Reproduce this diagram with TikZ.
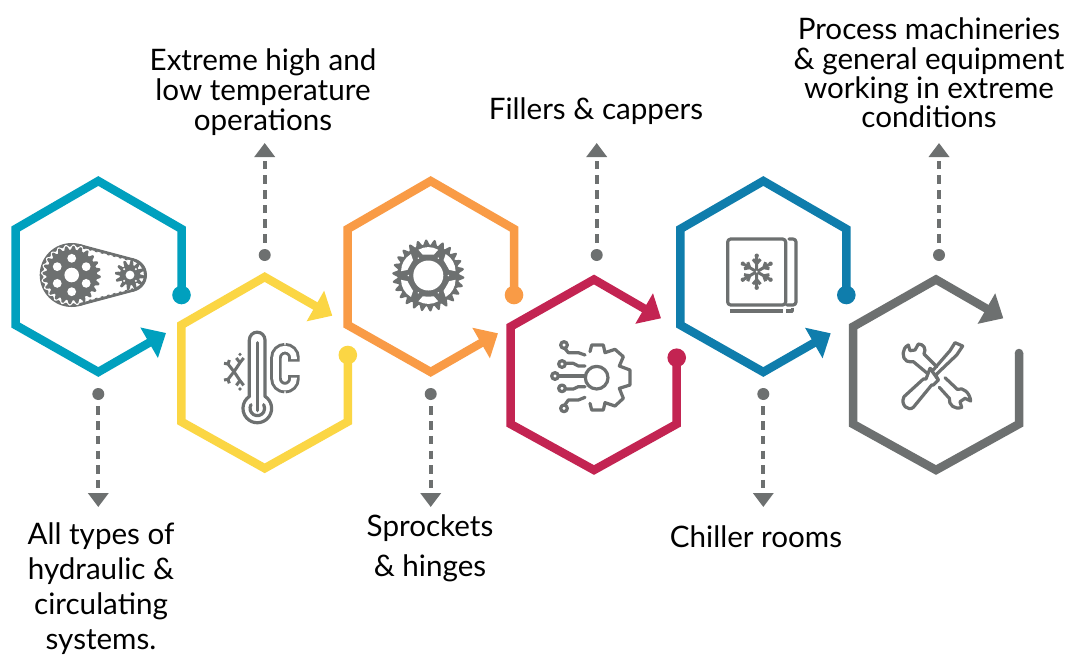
\documentclass[tikz,border=0pt]{standalone}
\usepackage{fontspec}
\setmainfont{Lato}
\usetikzlibrary{arrows.meta}
\definecolor{cteal}{HTML}{00A0BE}
\definecolor{cyel}{HTML}{FBD644}
\definecolor{corange}{HTML}{F99B46}
\definecolor{ccrim}{HTML}{C32452}
\definecolor{cblue}{HTML}{0F7DAC}
\definecolor{cgray}{HTML}{6D7070}
\tikzset{
 hexline/.style={draw=#1,line width=8.5pt,miter limit=10,-{Triangle[length=19.5pt,width=34pt]}},
 bigdot/.style={circle,fill=#1,minimum size=18.6pt,inner sep=0pt},
 smalldot/.style={circle,fill=cgray,minimum size=12pt,inner sep=0pt},
 dashlink/.style={draw=cgray,line width=4pt,dash pattern=on 8.5pt off 6.2pt,dash phase=8.5pt,-{Triangle[length=14pt,width=20pt]}},
 label/.style={font=\fontsize{29.6}{#1}\selectfont,align=center,text=black,inner sep=0pt},
 icon/.style={draw=cgray,line width=3.2pt,line cap=round,line join=round},
 flake/.style={draw=cgray,line width=3pt,line cap=butt},
 zoomed/.style={x=.3333pt,y=-.3333pt},
}
\newcommand{\toothed}[6]{% cx cy r amp n sharp
 plot[domain=0:360,samples=361,variable=\t] ({#1+(#3+#4*max(-1,min(1,#6*sin(#5*\t))))*cos(\t)},{#2+(#3+#4*max(-1,min(1,#6*sin(#5*\t))))*sin(\t)}) -- cycle}
\begin{document}
\begin{tikzpicture}[x=1pt,y=-1pt]
\useasboundingbox (0,0) rectangle (1067,654);
\fill[white] (0,0) rectangle (1067,654);

% ---------- hexagons
\node[bigdot=cteal] (d1) at (181.5,295) {};
\node[bigdot=cyel] (d2) at (347.8,355) {};
\node[bigdot=corange] (d3) at (514,295) {};
\node[bigdot=ccrim] (d4) at (676.7,357.7) {};
\node[bigdot=cblue] (d5) at (846.3,295) {};
\coordinate (d6) at (1019,353);
\coordinate (t1) at (166,333);
\coordinate (t2) at (332.3,315.7);
\coordinate (t3) at (498,333.3);
\coordinate (t4) at (661,318.3);
\coordinate (t5) at (830.7,333.3);
\coordinate (t6) at (1003.3,318.3);

\draw[hexline=cteal] (d1.center) -- (181.5,229) -- (98.3,181) -- (15.5,229) -- (15.5,325) -- (98.3,372) -- (t1);
\draw[hexline=cyel] (d2.center) -- (347.8,421.7) -- (264.7,468.3) -- (181.3,421.7) -- (181.3,325) -- (264.7,277) -- (t2);
\draw[hexline=corange] (d3.center) -- (514,229) -- (430.7,181) -- (347.7,229) -- (347.7,325) -- (430.7,372) -- (t3);
\draw[hexline=ccrim] (d4.center) -- (676.7,424) -- (594,470) -- (510.5,424) -- (510.5,326.7) -- (594,279.5) -- (t4);
\draw[hexline=cblue] (d5.center) -- (846.3,229) -- (763.3,181) -- (680.3,229) -- (680.3,325) -- (763.3,372) -- (t5);
\draw[hexline=cgray] (d6) -- (1019,424) -- (936,470) -- (853,424) -- (853,326.7) -- (936,279.5) -- (t6);
\fill[cgray] (d6) circle (4.25pt);

% ---------- dashed links
\node[smalldot] (s1) at (98.3,394) {};
\node[smalldot] (s2) at (264.7,255) {};
\node[smalldot] (s3) at (430.7,394) {};
\node[smalldot] (s4) at (596.7,255) {};
\node[smalldot] (s5) at (763.3,394) {};
\node[smalldot] (s6) at (939,255) {};
\coordinate (e1) at (98.3,507);
\coordinate (e2) at (264.7,143);
\coordinate (e3) at (430.7,507);
\coordinate (e4) at (596.7,143);
\coordinate (e5) at (763.3,507);
\coordinate (e6) at (939,143);
\foreach \n in {1,...,6} \draw[dashlink] (s\n) -- (e\n);

% ---------- labels
\node[label=30] (l2) at (263,92.5) {Extreme high and\\low temperature\\operations};
\node[label=29.3] (l6) at (929,73) {Process machineries\\\& general equipment\\working in extreme\\conditions};
\node[label=30] (l4) at (596,111) {Fillers \& cappers};
\node[label=35] (l1) at (101,588.5) {All types of\\hydraulic \&\\circulating\\systems.};
\node[label=40] (l3) at (430,548.5) {Sprockets\\\& hinges};
\node[label=30] (l5) at (756,537) {Chiller rooms};

% ---------- icon 1: chain
\begin{scope}
 \fill[cgray] (71.7,275) circle (32pt) (130,275) circle (17pt);
 \fill[cgray] (80,244.1) -- (134.4,258.6) -- (134.4,291.4) -- (80,305.9) -- cycle;
 \fill[white] (79.5,247) -- (133.5,261.2) -- (133.5,288.8) -- (79.5,303) -- cycle;
 \fill[white] (130,275) circle (13.8pt);
 \fill[white] \toothed{71.7}{275}{29.4}{1.2}{24}{1};
 \draw[cgray,line width=2pt,dash pattern=on 2.6pt off 3.6pt] (83,247.6) -- (133,260.8);
 \draw[cgray,line width=2pt,dash pattern=on 2.6pt off 3.6pt] (83,302.4) -- (133,289.2);
 \fill[cgray] \toothed{71.7}{275}{27.2}{1.9}{24}{1.3};
 \fill[cgray] \toothed{130}{275}{12.6}{2.4}{12}{1.5};
 \fill[white] (71.7,275) circle (7.3pt) (130,275) circle (4.4pt);
 \foreach \a in {30,90,...,330} \fill[white] (71.7,275) ++(\a:16.7) circle (4.4pt);
 \foreach \a in {45,135,225,315} \fill[white] (130,275) ++(\a:8.3) circle (1.2pt);
\end{scope}

% ---------- icon 2: thermometer
\begin{scope}[shift={(210,320)},zoomed]
 \draw[icon] (118,229) -- (118,60) arc[start angle=180,end angle=360,radius=23.5] -- (165,229) arc[start angle=-57.4,end angle=237.4,radius=43] -- cycle;
 \draw[icon] (142,68) -- (142,272);
 \draw[icon] (123,254) arc[start angle=210,end angle=-30,radius=22];
 \draw[cgray,line width=11.5pt,rounded corners=9pt] (252,125) -- (252,86) -- (198,86) -- (198,203) -- (252,203) -- (252,165);
 \draw[white,line width=5.6pt,rounded corners=9pt] (252,117) -- (252,86) -- (198,86) -- (198,203) -- (252,203) -- (252,173);
 \draw[flake] (72,155) -- (90,128) (90,128) -- (79,114) (90,128) -- (101,114)
  (72,155) -- (54,132) (54,132) -- (42,130) (54,132) -- (58,120)
  (72,155) -- (54,178) (54,178) -- (42,180) (54,178) -- (58,190)
  (72,155) -- (90,182) (90,182) -- (79,196) (90,182) -- (101,196);
 \fill[cgray] (90,103) circle (5.5) (90,207) circle (5.5);
\end{scope}

% ---------- icon 3: sprocket
\fill[cgray] \toothed{428.3}{275.5}{33.4}{2.7}{26}{1};
\fill[white] (428.3,275.5) circle (15pt);
\foreach \a in {30,90,...,330}{
\begin{scope}[shift={(428.3,275.5)}]
 \fill[white] ({\a-21}:27.6) -- ({\a-10}:28.2) -- (\a:28.4) -- ({\a+10}:28.2) -- ({\a+21}:27.6) -- ({\a+15}:21.6) -- ({\a+8}:21.2) -- (\a:21) -- ({\a-8}:21.2) -- ({\a-15}:21.6) -- cycle;
\end{scope}}
\foreach \a in {0,60,...,300} \fill[white] (428.3,275.5) ++(\a:20) circle (.8pt);

% ---------- icon 4: gear with circuit
\begin{scope}[shift={(540,330)},zoomed]
 \draw[icon] (150,65) -- (155,45) -- (190,45) -- (195,68) -- (225,58) -- (250,80) -- (238,108) -- (270,120) -- (270,165) -- (238,175) -- (250,205) -- (225,228) -- (195,218) -- (190,240) -- (155,240) -- (150,220);
 \draw[icon] (170,143) circle (34);
 \draw[icon] (45,138) circle (10) (66,102) circle (10) (66,175) circle (10) (72,45) circle (10) (72,235) circle (10);
 \draw[icon] (55,138) -- (135,138);
 \draw[icon] (76,100) -- (100,100) -- (115,108) -- (135,108);
 \draw[icon] (76,177) -- (100,177) -- (115,170) -- (135,170);
 \draw[icon] (75,56) -- (85,68) -- (115,68) -- (135,75);
 \draw[icon] (75,224) -- (85,210) -- (115,210) -- (135,202);
\end{scope}

% ---------- icon 5: freezer
\begin{scope}[shift={(715,225)},zoomed]
 \draw[icon,rounded corners=3pt] (38,42) rectangle (212,240);
 \draw[icon,rounded corners=3pt] (222,42) -- (243,42) -- (243,240) -- (216,240);
 \draw[icon,line cap=butt] (45,258) -- (205,258) (214,258) -- (232,258) -- (232,248);
\end{scope}
\foreach \a in {90,150,...,390}{
 \begin{scope}[shift={(756.7,271.7)},rotate=\a]
  \draw[flake] (1,0) -- (14.5,0) (8,0) -- (12.5,3.8) (8,0) -- (12.5,-3.8);
  \fill[cgray] (16,0) circle (2.2pt);
 \end{scope}
}

% ---------- icon 6: tools
\begin{scope}[shift={(890,330)},zoomed]
 \draw[icon] (140,110) -- (102,72) .. controls (110,55) and (100,42) .. (85,42) -- (75,60) -- (60,62) -- (55,45) .. controls (35,55) and (35,85) .. (50,93) .. controls (58,97) and (65,95) .. (70,95) -- (112,130);
 \draw[icon] (165,143) -- (202,178) .. controls (220,170) and (240,190) .. (242,213) -- (225,205) -- (210,215) -- (215,232) .. controls (195,240) and (175,225) .. (178,205) -- (148,172);
 \draw[icon] (42,200) -- (100,147) -- (108,147) -- (120,115) -- (128,122) -- (180,62) -- (195,38) -- (218,48) -- (200,75) -- (137,135) -- (145,150) -- (130,165) -- (125,165) -- (70,232) .. controls (55,245) and (30,225) .. (42,200);
 \draw[icon] (120,115) -- (145,150);
\end{scope}
\end{tikzpicture}
\end{document}
